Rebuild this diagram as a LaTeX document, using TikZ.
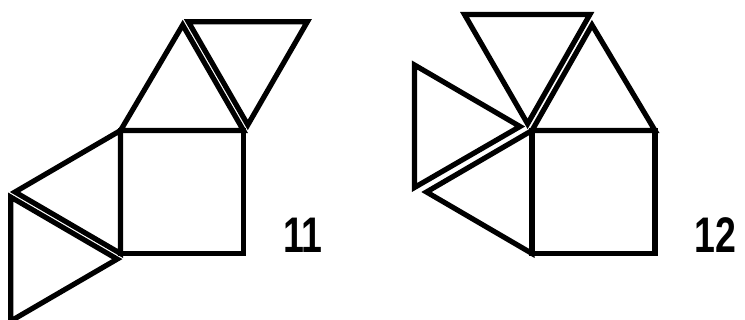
\documentclass[tikz,border=0pt]{standalone}
\usepackage{fontspec}
\usepackage{graphicx}
\setmainfont{Liberation Sans}
\tikzset{
  outl/.style={draw=black, line width=5.2pt, line join=miter, miter limit=10},
  lab/.style={anchor=base west, inner sep=0pt, font=\fontsize{50}{50}\selectfont\bfseries}
}
\begin{document}
\begin{tikzpicture}[x=1pt,y=-1pt]
\useasboundingbox (0,0) rectangle (745,320);
% ---------- figure 11 ----------
\draw[outl] (120.5,130.5) rectangle (243.5,253.5);
\draw[outl] (120.5,130.5) -- (182.7,25) -- (243.5,130.5) -- cycle;
\draw[outl] (188.3,21.7) -- (307.4,21.7) -- (247.8,124.9) -- cycle;
\draw[outl] (120.5,130.5) -- (15,192) -- (120.5,253.5) -- cycle;
\draw[outl] (10.8,197.1) -- (117.2,259.1) -- (10.8,321) -- cycle;
\node[lab] (n11) at (283,253) {\scalebox{0.75}[1]{11}};
% ---------- figure 12 ----------
\draw[outl] (532,130.5) rectangle (655,253.5);
\draw[outl] (532,130.5) -- (592,25) -- (655,130.5) -- cycle;
\draw[outl] (464.5,14.5) -- (589.9,14.5) -- (527.6,123.8) -- cycle;
\draw[outl] (532,130.5) -- (426.5,192) -- (532,253.5) -- cycle;
\draw[outl] (414.5,65) -- (520,126.5) -- (414.5,187.5) -- cycle;
\node[lab] (n12) at (694,253) {\scalebox{0.75}[1]{12}};
\end{tikzpicture}
\end{document}
